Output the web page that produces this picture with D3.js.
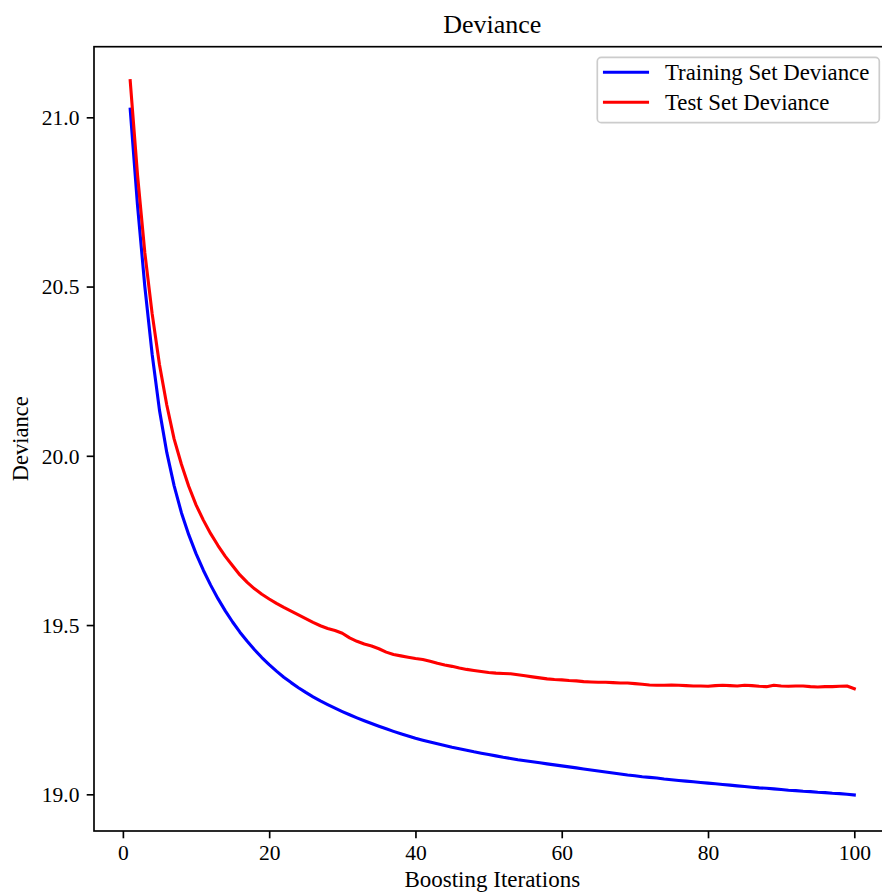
<!DOCTYPE html>
<html>
<head>
<meta charset="utf-8">
<script src="https://cdn.jsdelivr.net/npm/d3@7"></script>
<style>
  body { margin: 0; background: #fff; }
  svg text { font-family: "Liberation Serif", "Times New Roman", serif; fill: #000; }
</style>
</head>
<body>
<div id="chart"></div>
<script>
// boosting iterations 1..100
const iterations = d3.range(1, 101);

const trainDeviance = [
  21.024, 20.74, 20.50, 20.30, 20.135, 20.01, 19.912, 19.832, 19.767, 19.711,
  19.662, 19.618, 19.578, 19.542, 19.509, 19.479, 19.452, 19.427, 19.404, 19.383,
  19.364, 19.346, 19.330, 19.315, 19.301, 19.288, 19.276, 19.265, 19.2545, 19.2445,
  19.235, 19.226, 19.2175, 19.209, 19.201, 19.1935, 19.186, 19.179, 19.172, 19.1655,
  19.160, 19.1545, 19.149, 19.144, 19.139, 19.1345, 19.130, 19.1255, 19.1215, 19.1175,
  19.1135, 19.1095, 19.106, 19.102, 19.099, 19.096, 19.093, 19.090, 19.087, 19.084,
  19.081, 19.078, 19.075, 19.072, 19.069, 19.066, 19.063, 19.060, 19.057, 19.055,
  19.052, 19.050, 19.048, 19.045, 19.043, 19.041, 19.039, 19.037, 19.035, 19.033,
  19.031, 19.029, 19.027, 19.025, 19.023, 19.021, 19.019, 19.018, 19.016, 19.014,
  19.012, 19.011, 19.009, 19.008, 19.006, 19.005, 19.003, 19.002, 19.000, 18.998
];

const testDeviance = [
  21.108, 20.83, 20.60, 20.42, 20.27, 20.15, 20.05, 19.975, 19.91, 19.855,
  19.81, 19.77, 19.735, 19.703, 19.675, 19.648, 19.626, 19.607, 19.591, 19.577,
  19.564, 19.552, 19.541, 19.530, 19.519, 19.508, 19.498, 19.490, 19.484, 19.476,
  19.462, 19.452, 19.444, 19.438, 19.430, 19.420, 19.413, 19.409, 19.405, 19.401,
  19.398, 19.393, 19.387, 19.382, 19.378, 19.373, 19.369, 19.366, 19.363, 19.360,
  19.358, 19.357, 19.356, 19.353, 19.350, 19.347, 19.344, 19.341, 19.339, 19.338,
  19.336, 19.335, 19.333, 19.332, 19.331, 19.331, 19.330, 19.329, 19.329, 19.327,
  19.325, 19.323, 19.322, 19.322, 19.323, 19.322, 19.321, 19.320, 19.320, 19.319,
  19.321, 19.322, 19.321, 19.320, 19.322, 19.321, 19.319, 19.318, 19.322, 19.320,
  19.319, 19.320, 19.320, 19.318, 19.317, 19.318, 19.318, 19.319, 19.320, 19.312
];

const xTicks = [0, 20, 40, 60, 80, 100];
const yTicks = [19.0, 19.5, 20.0, 20.5, 21.0];
const seriesNames = ["Training Set Deviance", "Test Set Deviance"];
const seriesColors = ["#0000ff", "#ff0000"];

const width = 882, height = 892;
const plotLeft = 94, plotTop = 46.7, plotRight = 890.5, plotBottom = 831;

const svg = d3.select("#chart").append("svg")
    .attr("width", width)
    .attr("height", height);

const x = d3.scaleLinear().domain([-3.95, 104.95]).range([plotLeft, plotRight]);
const y = d3.scaleLinear().domain([18.8916, 21.2086]).range([plotBottom, plotTop]);

// data lines
const line = d3.line()
    .x((d, i) => x(iterations[i]))
    .y(d => y(d));

[trainDeviance, testDeviance].forEach((series, k) => {
    svg.append("path")
        .datum(series)
        .attr("d", line)
        .attr("fill", "none")
        .attr("stroke", seriesColors[k])
        .attr("stroke-width", 3.1)
        .attr("stroke-linejoin", "round")
        .attr("stroke-linecap", "square");
});

// axes
const tickLen = 7.3;
const xAxis = svg.append("g")
    .attr("transform", `translate(0,${plotBottom})`)
    .call(d3.axisBottom(x).tickValues(xTicks).tickSize(tickLen).tickPadding(7.3).tickSizeOuter(0));
const yAxis = svg.append("g")
    .attr("transform", `translate(${plotLeft},0)`)
    .call(d3.axisLeft(y).tickValues(yTicks).tickFormat(d3.format(".1f")).tickSize(tickLen).tickPadding(7.3).tickSizeOuter(0));

[xAxis, yAxis].forEach(g => {
    g.select(".domain").remove();
    g.selectAll(".tick line").attr("stroke", "#000").attr("stroke-width", 1.67);
    g.selectAll(".tick text")
        .style("font-family", '"Liberation Serif", serif')
        .style("font-size", "21.5px")
        .attr("fill", "#000");
});
xAxis.selectAll(".tick text").attr("dy", null).attr("y", 29);
yAxis.selectAll(".tick text").attr("dy", "0.34em");

// spines (right one falls outside the picture)
svg.append("rect")
    .attr("x", plotLeft).attr("y", plotTop)
    .attr("width", plotRight - plotLeft).attr("height", plotBottom - plotTop)
    .attr("fill", "none")
    .attr("stroke", "#000")
    .attr("stroke-width", 1.67);

// title and labels
svg.append("text")
    .attr("x", (plotLeft + plotRight) / 2).attr("y", 33)
    .attr("text-anchor", "middle")
    .style("font-size", "26px")
    .text("Deviance");

svg.append("text")
    .attr("x", (plotLeft + plotRight) / 2).attr("y", 887)
    .attr("text-anchor", "middle")
    .style("font-size", "23px")
    .text("Boosting Iterations");

svg.append("text")
    .attr("transform", `translate(28,${(plotTop + plotBottom) / 2}) rotate(-90)`)
    .attr("text-anchor", "middle")
    .style("font-size", "22.5px")
    .text("Deviance");

// legend
const legend = svg.append("g");
legend.append("rect")
    .attr("x", 597.3).attr("y", 57.3)
    .attr("width", 282).attr("height", 65.4)
    .attr("rx", 4).attr("ry", 4)
    .attr("fill", "#fff").attr("fill-opacity", 0.8)
    .attr("stroke", "#cccccc").attr("stroke-width", 1.67);

seriesNames.forEach((name, k) => {
    const ly = 72.8 + k * 30;
    legend.append("line")
        .attr("x1", 604.5).attr("x2", 647.5)
        .attr("y1", ly - 0.5).attr("y2", ly - 0.5)
        .attr("stroke", seriesColors[k])
        .attr("stroke-width", 3.1)
        .attr("stroke-linecap", "square");
    legend.append("text")
        .attr("x", 665).attr("y", ly)
        .attr("dy", "0.32em")
        .style("font-size", "22.8px")
        .text(name);
});
</script>
</body>
</html>
